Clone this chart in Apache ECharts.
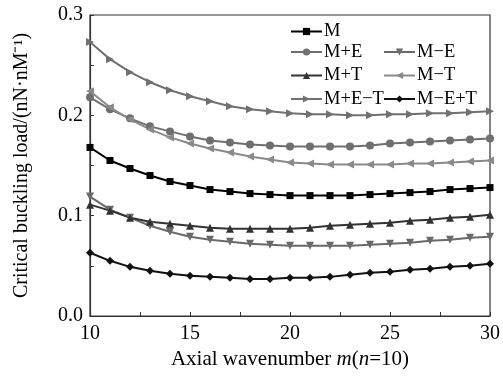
<!DOCTYPE html>
<html>
<head>
<meta charset="utf-8">
<script src="https://cdn.jsdelivr.net/npm/echarts@6/dist/echarts.min.js"></script>
<style>
html,body{margin:0;padding:0;background:#fff;}
#chart{width:503px;height:378px;}
</style>
</head>
<body>
<div id="chart"></div>
<script>
const mValues = [10,11,12,13,14,15,16,17,18,19,20,21,22,23,24,25,26,27,28,29,30];
const seriesNames = ['M','M+E','M−E','M+T','M−T','M+E−T','M−E+T'];
const M      = [0.168,0.155,0.147,0.140,0.134,0.130,0.126,0.124,0.122,0.121,0.120,0.120,0.120,0.120,0.121,0.122,0.123,0.124,0.126,0.127,0.128];
const MpE    = [0.218,0.206,0.197,0.189,0.184,0.179,0.175,0.173,0.171,0.170,0.169,0.169,0.169,0.169,0.170,0.172,0.173,0.174,0.175,0.176,0.177];
const MmE    = [0.119,0.106,0.098,0.090,0.084,0.079,0.076,0.074,0.072,0.071,0.070,0.070,0.070,0.070,0.071,0.072,0.073,0.075,0.076,0.078,0.079];
const MpT    = [0.111,0.105,0.098,0.094,0.092,0.090,0.088,0.087,0.087,0.087,0.087,0.088,0.090,0.091,0.092,0.093,0.095,0.096,0.098,0.099,0.101];
const MmT    = [0.224,0.208,0.196,0.186,0.178,0.172,0.167,0.163,0.159,0.156,0.153,0.152,0.151,0.151,0.151,0.151,0.152,0.152,0.153,0.154,0.155];
const MpEmT  = [0.273,0.256,0.243,0.233,0.225,0.219,0.214,0.209,0.206,0.204,0.202,0.201,0.201,0.200,0.200,0.201,0.201,0.202,0.202,0.203,0.204];
const MmEpT  = [0.063,0.055,0.049,0.045,0.042,0.040,0.039,0.038,0.037,0.037,0.038,0.038,0.039,0.041,0.043,0.044,0.046,0.047,0.049,0.050,0.052];
const xTicks = [10,15,20,25,30];
const yTicks = [0.0,0.1,0.2,0.3];

const FONT = '"Liberation Serif","Times New Roman",serif';
const valuesList = [M,MpE,MmE,MpT,MmT,MpEmT,MmEpT];
const colors = ['#000000','#6f6f6f','#6a6a6a','#333333','#8a8a8a','#707070','#111111'];
const symbols = ['rect','circle','triangle','triangle','triangle','triangle','diamond'];
const rotations = [0,0,180,0,90,-90,0];
const sizes = [7,8,8,8,8,8,8];

const series = seriesNames.map((name,i)=>({
  name: name,
  type: 'line',
  data: mValues.map((m,j)=>[m, valuesList[i][j]]),
  symbol: symbols[i],
  symbolRotate: rotations[i],
  symbolSize: sizes[i],
  showSymbol: true,
  smooth: false,
  lineStyle: {color: colors[i], width: 2},
  itemStyle: {color: colors[i]},
  animation: false,
  z: 2
}));

const legendCommon = {
  orient: 'vertical',
  itemWidth: 31,
  itemHeight: 9,
  itemGap: 4.5,
  textStyle: {fontFamily: FONT, fontSize: 18.5, color: '#000', lineHeight: 16, padding: [0,0,0,-3]},
  padding: 0,
  selectedMode: false
};

const chart = echarts.init(document.getElementById('chart'), null, {renderer:'canvas'});
chart.setOption({
  backgroundColor: '#fff',
  animation: false,
  grid: {left: 90, right: 13, top: 15, bottom: 62, show: true, borderColor: '#333', borderWidth: 1.2, containLabel: false},
  legend: [
    Object.assign({}, legendCommon, {data: ['M'], left: 290, top: 22}),
    Object.assign({}, legendCommon, {data: ['M+E','M+T','M+E−T'], left: 290, top: 42.5}),
    Object.assign({}, legendCommon, {data: ['M−E','M−T','M−E+T'], left: 383, top: 42.5})
  ],
  xAxis: {
    type: 'value', min: 10, max: 30, interval: 5,
    axisLine: {show: true, lineStyle: {color: '#333', width: 1.2}},
    axisTick: {show: true, inside: true, length: 4, lineStyle: {color: '#333'}},
    minorTick: {show: true, splitNumber: 2, length: 4, lineStyle: {color: '#333'}},
    splitLine: {show: false},
    axisLabel: {fontFamily: FONT, fontSize: 20, color: '#000', margin: 8,
      formatter: v => xTicks.includes(v) ? String(v) : ''},
    name: '{t|Axial wavenumber }{i|m}{t|(}{i|n}{t|=10)}',
    nameLocation: 'middle', nameGap: 31,
    nameTextStyle: {rich: {
      t: {fontFamily: FONT, fontSize: 21, color: '#000'},
      i: {fontFamily: FONT, fontSize: 21, color: '#000', fontStyle: 'italic'}
    }}
  },
  yAxis: {
    type: 'value', min: 0, max: 0.3, interval: 0.1,
    axisLine: {show: true, lineStyle: {color: '#333', width: 1.2}},
    axisTick: {show: true, inside: true, length: 4, lineStyle: {color: '#333'}},
    minorTick: {show: true, splitNumber: 2, length: 4, lineStyle: {color: '#333'}},
    splitLine: {show: false},
    axisLabel: {fontFamily: FONT, fontSize: 20, color: '#000', margin: 7,
      formatter: v => { const t = yTicks.find(k => Math.abs(k - v) < 1e-9); return t === undefined ? '' : t.toFixed(1); }},
    name: 'Critical buckling load/(nN·nM⁻¹)',
    nameLocation: 'middle', nameGap: 58,
    nameTextStyle: {fontFamily: FONT, fontSize: 20, color: '#000'}
  },
  series: series
});
</script>
</body>
</html>
